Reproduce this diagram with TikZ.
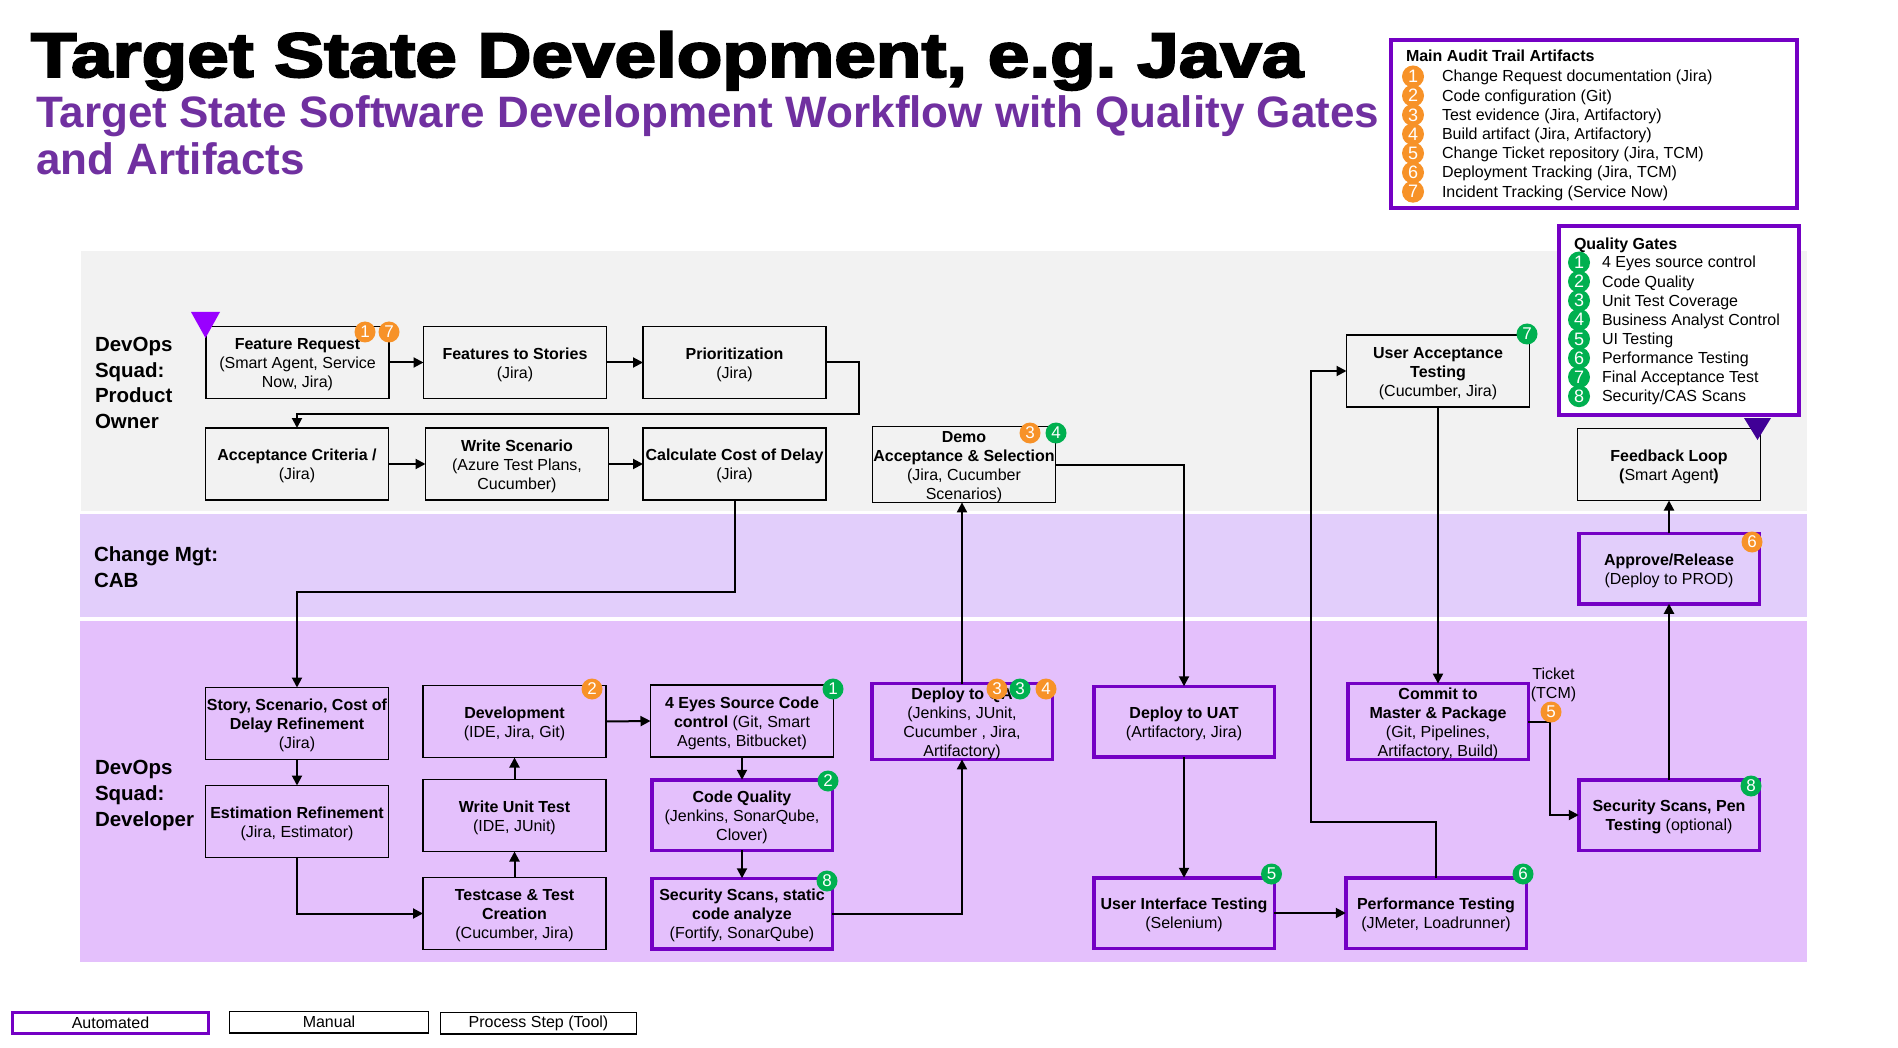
\documentclass[tikz,border=0pt]{standalone}
\usepackage{fontspec}
\setmainfont{Liberation Sans}
\newfontfamily\titlefont{Liberation Sans}[BoldFeatures={FakeBold=3}]
\usetikzlibrary{arrows.meta,calc}
\definecolor{autopurple}{RGB}{116,0,196}
\definecolor{subpurple}{RGB}{112,48,160}
\definecolor{lanegray}{RGB}{242,242,242}
\definecolor{lanecab}{RGB}{226,206,251}
\definecolor{lanedev}{RGB}{228,192,252}
\definecolor{gorange}{RGB}{247,146,40}
\definecolor{ggreen}{RGB}{0,176,80}
\definecolor{violetmark}{RGB}{153,0,255}
\definecolor{indigomark}{RGB}{64,0,150}
\newcommand{\tsp}{\rule{0pt}{15.5pt}}
\begin{document}
\begin{tikzpicture}[x=1pt,y=-1pt,
  every node/.style={inner sep=0pt, outer sep=0pt},
  boxtext/.style={font=\fontsize{16}{19}\selectfont, align=center},
  manualbox/.style={boxtext, draw=black, line width=1.5pt, minimum width=183pt, minimum height=72pt},
  autobox/.style={boxtext, draw=autopurple, line width=3.5pt, minimum width=180.5pt, minimum height=70.5pt},
  conn/.style={draw=black, line width=2pt, -{Triangle[length=10pt,width=10pt]}},
  badge/.style={circle, minimum size=21pt, font=\fontsize{17}{17}\selectfont, text=white},
  obadge/.style={badge, fill=gorange},
  gbadge/.style={badge, fill=ggreen},
  lobadge/.style={obadge, minimum size=22pt, font=\fontsize{18}{18}\selectfont},
  lgbadge/.style={gbadge, minimum size=22pt, font=\fontsize{18}{18}\selectfont},
  lanelabel/.style={anchor=base west, font=\bfseries\fontsize{20.5}{25}\selectfont},
  legtext/.style={anchor=base west, font=\fontsize{16}{19}\selectfont},
  legbox/.style={draw=autopurple, line width=4pt, fill=white}
]
\useasboundingbox (0,0) rectangle (1898,1048);
\fill[white] (0,0) rectangle (1898,1048);

% lanes
\fill[lanegray] (81,251) rectangle (1807,511);
\fill[lanecab] (80,514) rectangle (1807,617);
\fill[lanedev] (80,621) rectangle (1807,962);

% lane labels
\foreach \t [count=\i] in {DevOps,Squad:,Product,Owner}
  \node[lanelabel] (lpo\i) at (95,{351.5+25.7*(\i-1)}) {\t};
\node[lanelabel] (lcab1) at (94,561) {Change Mgt:};
\node[lanelabel] (lcab2) at (94,587) {CAB};
\foreach \t [count=\i] in {DevOps,Squad:,Developer}
  \node[lanelabel] (ldev\i) at (95,{774+26*(\i-1)}) {\t};

% title
\node[anchor=base west, font=\titlefont\bfseries\fontsize{63}{63}\selectfont] (title) at (31,77)
  {\scalebox{1.185}[1]{Target State Development, e.g.\ Java}};
\node[anchor=base west, font=\bfseries\fontsize{44}{47}\selectfont, text=subpurple] (sub1) at (36,128)
  {Target State Software Development Workflow with Quality Gates};
\node[anchor=base west, font=\bfseries\fontsize{44}{47}\selectfont, text=subpurple] (sub2) at (36,175)
  {and Artifacts};

% top lane boxes
\node[manualbox] (fr) at (297.5,362.5) {\tsp\textbf{Feature Request}\\(Smart Agent, Service\\Now, Jira)};
\node[manualbox] (fs) at (515,362.5) {\tsp\textbf{Features to Stories}\\(Jira)};
\node[manualbox] (pr) at (734.5,362.5) {\tsp\textbf{Prioritization}\\(Jira)};
\node[manualbox] (ac) at (297,464) {\tsp\textbf{Acceptance Criteria /}\\(Jira)};
\node[manualbox] (ws) at (517,464) {\tsp\textbf{Write Scenario}\\(Azure Test Plans,\\Cucumber)};
\node[manualbox] (cc) at (734.5,464) {\tsp\textbf{Calculate Cost of Delay}\\(Jira)};
\node[manualbox] (demo) at (964,464.5) {\tsp\textbf{Demo}\\\textbf{Acceptance \& Selection}\\(Jira, Cucumber\\Scenarios)};
\node[manualbox] (uat) at (1438,371) {\tsp\textbf{User Acceptance}\\\textbf{Testing}\\(Cucumber, Jira)};
\node[manualbox] (fb) at (1669,464.5) {\tsp\textbf{Feedback Loop}\\\textbf{(}Smart Agent\textbf{)}};

% CAB lane
\node[autobox] (ap) at (1669,568.5) {\tsp\textbf{Approve/Release}\\(Deploy to PROD)};

% developer lane
\node[manualbox] (st) at (297,723.5) {\tsp\textbf{Story, Scenario, Cost of}\\\textbf{Delay Refinement}\\(Jira)};
\node[manualbox] (est) at (297,821.5) {\tsp\textbf{Estimation Refinement}\\(Jira, Estimator)};
\node[manualbox] (dev) at (514.5,721.5) {\tsp\textbf{Development}\\(IDE, Jira, Git)};
\node[manualbox] (wu) at (514.5,815.5) {\tsp\textbf{Write Unit Test}\\(IDE, JUnit)};
\node[manualbox] (tc) at (514.5,913.5) {\tsp\textbf{Testcase \& Test}\\\textbf{Creation}\\(Cucumber, Jira)};
\node[manualbox] (eyes) at (742,721) {\tsp\textbf{4 Eyes Source Code}\\\textbf{control} (Git, Smart\\Agents, Bitbucket)};
\node[autobox] (cq) at (742,815) {\tsp\textbf{Code Quality}\\(Jenkins, SonarQube,\\Clover)};
\node[autobox] (ss) at (742,913.5) {\tsp\textbf{Security Scans, static}\\\textbf{code analyze}\\(Fortify, SonarQube)};
\node[autobox] (dqa) at (962,721.5) {\tsp\textbf{Deploy to QA}\\(Jenkins, JUnit,\\Cucumber , Jira,\\Artifactory)};
\node[autobox] (duat) at (1184,721.5) {\tsp\textbf{Deploy to UAT}\\(Artifactory, Jira)};
\node[autobox] (ui) at (1184,913) {\tsp\textbf{User Interface Testing}\\(Selenium)};
\node[autobox] (perf) at (1436,913) {\tsp\textbf{Performance Testing}\\(JMeter, Loadrunner)};
\node[autobox] (commit) at (1438,721.5) {\tsp\textbf{Commit to}\\\textbf{Master \& Package}\\(Git, Pipelines,\\Artifactory, Build)};
\node[autobox] (sp) at (1669,815) {\tsp\textbf{Security Scans, Pen}\\\textbf{Testing} (optional)};

\node[boxtext, anchor=base] (tk1) at (1553.5,679) {Ticket};
\node[boxtext, anchor=base] (tk2) at (1553.5,698) {(TCM)};

% connectors
\draw[conn] (fr.east) -- (fs.west);
\draw[conn] (fs.east) -- (pr.west);
\draw[conn] (pr.east) -- ++(33,0) |- ($(ac.north)+(0,-14)$) -- (ac.north);
\draw[conn] (ac.east) -- (ws.west);
\draw[conn] (ws.east) -- (cc.west);
\draw[conn] (cc.south) -- ++(0,92) -| (st.north);
\draw[conn] (st.south) -- (est.north);
\draw[conn] (est.south) |- (tc.west);
\draw[conn] (tc.north) -- (wu.south);
\draw[conn] (wu.north) -- (dev.south);
\draw[conn] (dev.east) -- (eyes.west);
\draw[conn] (eyes.south) -- (cq.north);
\draw[conn] (cq.south) -- (ss.north);
\draw[conn] (ss.east) -| (dqa.south);
\draw[conn] (dqa.north) -- (dqa.north |- demo.south);
\draw[conn] (demo.east) -| (duat.north);
\draw[conn] (duat.south) -- (ui.north);
\draw[conn] (ui.east) -- (perf.west);
\draw[conn] (perf.north) -- ++(0,-56) -| ($(uat.west)+(-36,0)$) -- (uat.west);
\draw[conn] (uat.south) -- (commit.north);
\draw[conn] (commit.east) -- ++(22,0) |- (sp.west);
\draw[conn] (sp.north) -- (ap.south);
\draw[conn] (ap.north) -- (fb.south);

% badges on boxes
\node[obadge] (bfr1) at (365,332) {1};
\node[obadge] (bfr7) at (389,332) {7};
\node[obadge] (bdemo3) at (1030,433) {3};
\node[gbadge] (bdemo4) at (1056,433) {4};
\node[gbadge] (buat7) at (1527,334) {7};
\node[obadge] (bap6) at (1752,542) {6};
\node[obadge] (bdev2) at (592,689) {2};
\node[gbadge] (beyes1) at (833,689) {1};
\node[gbadge] (bcq2) at (828,781) {2};
\node[gbadge] (bss8) at (827,881) {8};
\node[obadge] (bdqa3o) at (997,689) {3};
\node[gbadge] (bdqa3g) at (1020,689) {3};
\node[obadge] (bdqa4) at (1046,689) {4};
\node[gbadge] (bui5) at (1271.5,874) {5};
\node[gbadge] (bperf6) at (1523,874) {6};
\node[obadge] (bcom5) at (1551,712) {5};
\node[gbadge] (bsp8) at (1751,786) {8};

% markers
\fill[violetmark] (191,312) -- (220,312) -- (205.5,338) -- cycle;

% legend: main audit trail artifacts
\node[legbox, minimum width=406pt, minimum height=168pt] (mabox) at (1594,124) {};
\node[legtext, font=\bfseries\fontsize{16}{19}\selectfont] (matitle) at (1406,62) {Main Audit Trail Artifacts};
\foreach \t [count=\i] in {Change Request documentation (Jira),Code configuration (Git),Test evidence (Jira{,} Artifactory),Build artifact (Jira{,} Artifactory),Change Ticket repository (Jira{,} TCM),Deployment Tracking (Jira{,} TCM),Incident Tracking (Service Now)}{
  \node[lobadge] (mab\i) at (1413,{82-5.5+19.2*(\i-1)}) {\i};
  \node[legtext] (mat\i) at (1442,{82+19.2*(\i-1)}) {\t};
}

% legend: quality gates
\node[legbox, minimum width=240pt, minimum height=189pt] (qgbox) at (1679,320.5) {};
\node[legtext, font=\bfseries\fontsize{16}{19}\selectfont] (qgtitle) at (1574,249.5) {Quality Gates};
\foreach \t [count=\i] in {4 Eyes source control,Code Quality,Unit Test Coverage,Business Analyst Control,UI Testing,Performance Testing,Final Acceptance Test,Security/CAS Scans}{
  \node[lgbadge] (qgb\i) at (1579,{268-5.5+19.1*(\i-1)}) {\i};
  \node[legtext] (qgt\i) at (1602,{268+19.1*(\i-1)}) {\t};
}
\fill[indigomark] (1744,418) -- (1771,418) -- (1757.5,440) -- cycle;

% bottom legend
\node[boxtext, draw=autopurple, line width=3pt, minimum width=196pt, minimum height=21pt] (lgauto) at (110.5,1022.5) {Automated};
\node[boxtext, draw=black, line width=1.2pt, minimum width=198.5pt, minimum height=21.8pt] (lgman) at (329,1022) {Manual};
\node[boxtext, draw=black, line width=1.2pt, minimum width=196pt, minimum height=21.8pt] (lgproc) at (538.5,1023) {Process Step (Tool)};
\end{tikzpicture}
\end{document}
